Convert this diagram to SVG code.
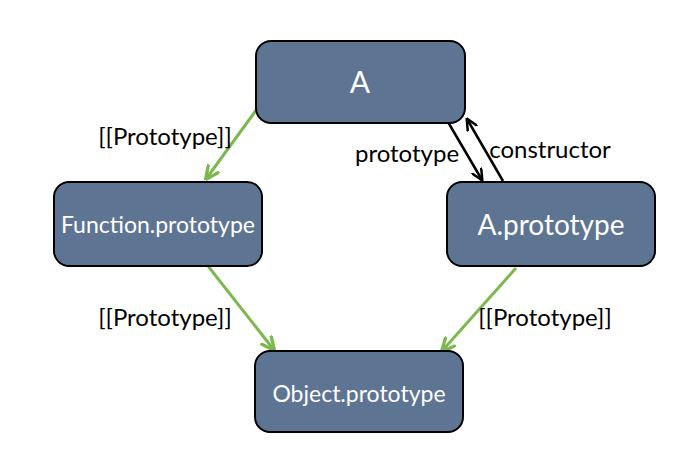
<svg xmlns="http://www.w3.org/2000/svg" width="697" height="469" viewBox="0 0 697 469">
<style>
.box{fill:#5d7592;stroke:#000;stroke-width:2}
.nt{fill:#fff;font-family:Lato,"Liberation Sans",sans-serif;text-anchor:middle}
.lb{fill:#000;font-family:Lato,"Liberation Sans",sans-serif;font-size:24px;text-anchor:middle}
.g{stroke:#7cb84e;stroke-width:3;fill:none}
.k{stroke:#000;stroke-width:2.5;fill:none}
</style>
<defs>
<marker id="ga" viewBox="0 0 10 10" refX="9" refY="5" markerWidth="5" markerHeight="5" orient="auto" markerUnits="strokeWidth">
<path d="M0,0.5 L9.5,5 L0,9.5" fill="none" stroke="#7cb84e" stroke-width="2.2"/>
</marker>
<marker id="ka" viewBox="0 0 10 10" refX="9" refY="5" markerWidth="5" markerHeight="5" orient="auto" markerUnits="strokeWidth">
<path d="M0,0.5 L9.5,5 L0,9.5" fill="none" stroke="#000" stroke-width="2"/>
</marker>
</defs>
<rect width="697" height="469" fill="#fff"/>
<g id="connectors">
<line class="g" x1="257" y1="109" x2="206" y2="179" marker-end="url(#ga)"/>
<line class="g" x1="208" y1="266" x2="274" y2="350" marker-end="url(#ga)"/>
<line class="g" x1="516" y1="268" x2="442" y2="351" marker-end="url(#ga)"/>
<line class="k" x1="448" y1="122" x2="482" y2="180" marker-end="url(#ka)"/>
<line class="k" x1="503" y1="181" x2="467" y2="119" marker-end="url(#ka)"/>
<text class="lb" x="165" y="145">[[Prototype]]</text>
<text class="lb" x="165" y="326">[[Prototype]]</text>
<text class="lb" x="545" y="326">[[Prototype]]</text>
<text class="lb" x="407" y="162">prototype</text>
<text class="lb" x="550" y="158">constructor</text>
</g>
<g id="A">
<rect class="box" x="256" y="41" width="209" height="82" rx="15"/>
<text class="nt" x="360" y="93" font-size="30">A</text>
</g>
<g id="FunctionPrototype">
<rect class="box" x="54" y="182" width="208" height="84" rx="15"/>
<text class="nt" x="158" y="233" font-size="23">Function.prototype</text>
</g>
<g id="APrototype">
<rect class="box" x="447" y="182" width="208" height="84" rx="15"/>
<text class="nt" x="551" y="235" font-size="28">A.prototype</text>
</g>
<g id="ObjectPrototype">
<rect class="box" x="255" y="351" width="208" height="81" rx="15"/>
<text class="nt" x="359" y="402" font-size="23">Object.prototype</text>
</g>
</svg>
